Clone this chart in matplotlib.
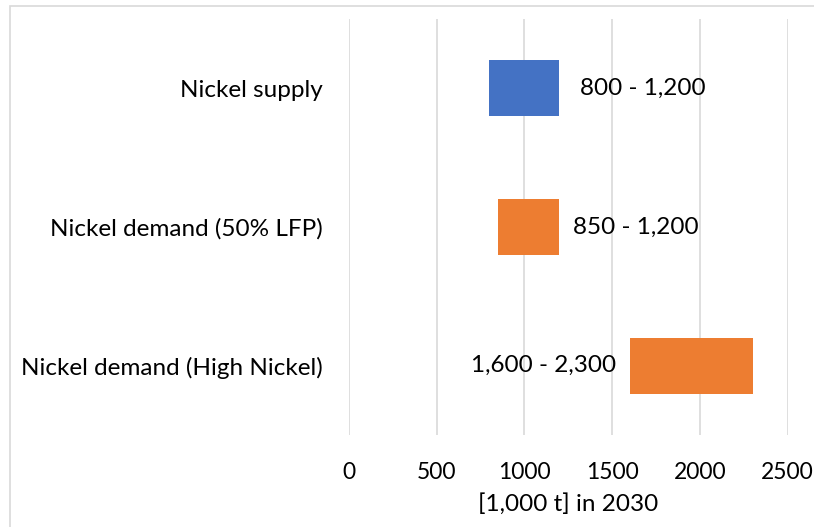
import matplotlib
matplotlib.use("Agg")
import matplotlib.pyplot as plt
from matplotlib.patches import Rectangle
from matplotlib.transforms import offset_copy

categories = ["Nickel supply", "Nickel demand (50% LFP)", "Nickel demand (High Nickel)"]
low = [800, 850, 1600]
high = [1200, 1200, 2300]
labels = ["800 - 1,200", "850 - 1,200", "1,600 - 2,300"]
colors = ["#4472C4", "#ED7D31", "#ED7D31"]
xticks = [0, 500, 1000, 1500, 2000, 2500]

plt.rcParams["font.family"] = ["Lato", "DejaVu Sans"]
FS = 17.5

W, H = 814, 527
fig = plt.figure(figsize=(W / 100, H / 100), dpi=100)
fig.patch.set_facecolor("white")

# outer chart frame
fig.patches.append(Rectangle((10 / W, -0.1), 1.2, 1 - 6 / H + 0.1,
                             transform=fig.transFigure, fill=False,
                             edgecolor="#d9d9d9", linewidth=1.2))

ax = fig.add_axes([348.7 / W, 1 - 435 / H, (787.7 - 348.7) / W, (435 - 19) / H])
ax.set_xlim(0, 2500)
ypos = list(range(len(categories)))
ax.set_ylim(len(categories) - 0.5, -0.5)

widths = [h - l for l, h in zip(low, high)]
ax.barh(ypos, widths, left=low, height=0.404, color=colors, zorder=3)

# range labels: right of the bar, except the last one, which sits left of it
gaps_pt = [14.5, 9.5, 9.5]
for i, (l, h, t) in enumerate(zip(low, high, labels)):
    if i == 2:
        tr = offset_copy(ax.transData, fig=fig, x=-gaps_pt[i], y=0, units="points")
        ax.text(l, i, t, ha="right", va="center", fontsize=FS, color="#000000", transform=tr)
    else:
        tr = offset_copy(ax.transData, fig=fig, x=gaps_pt[i], y=0, units="points")
        ax.text(h, i, t, ha="left", va="center", fontsize=FS, color="#000000", transform=tr)

ax.set_yticks(ypos)
ax.set_yticklabels(categories, fontsize=FS)
ax.set_xticks(xticks)
ax.set_xticklabels([str(v) for v in xticks], fontsize=16.5)
ax.tick_params(axis="both", length=0)
ax.tick_params(axis="x", pad=19.5)
ax.tick_params(axis="y", pad=18.5)
ax.grid(axis="x", color="#d9d9d9", linewidth=1.2, zorder=0)
for s in ax.spines.values():
    s.set_visible(False)
ax.set_xlabel("[1,000 t] in 2030", fontsize=FS, labelpad=7)

fig.savefig("out.png", dpi=100, facecolor="white")
